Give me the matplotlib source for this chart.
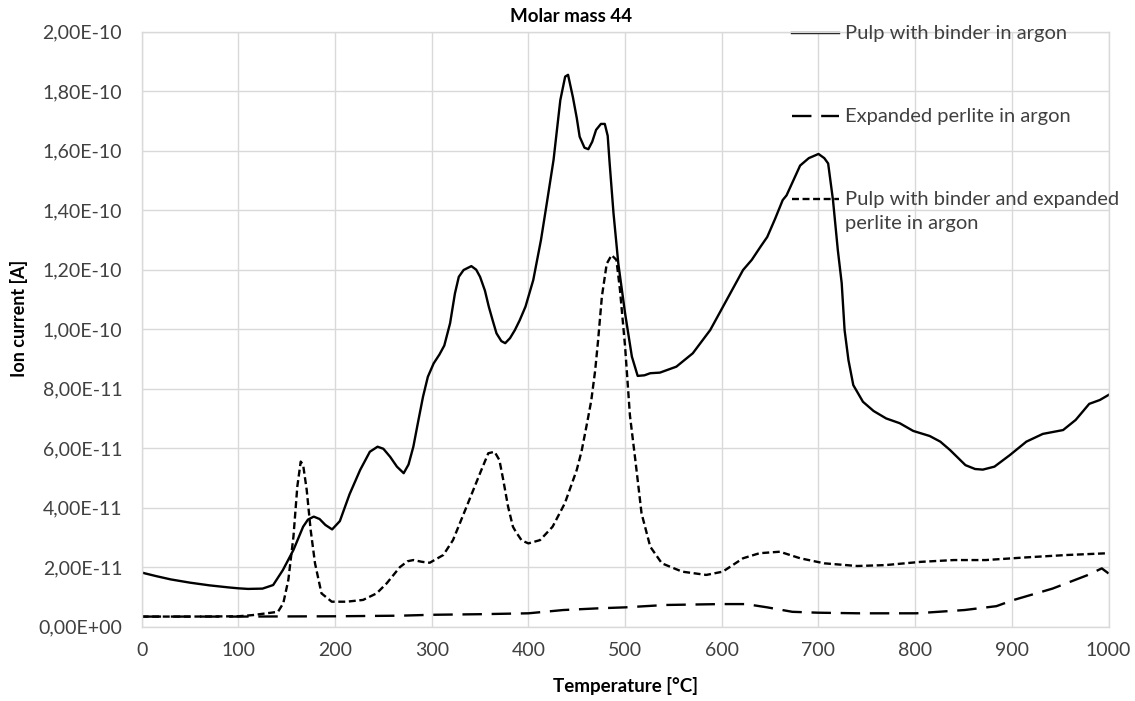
import numpy as np
import matplotlib
matplotlib.use("Agg")
import matplotlib.pyplot as plt
from matplotlib.ticker import FuncFormatter

plt.rcParams['font.family'] = ['Lato', 'DejaVu Sans']
plt.rcParams['lines.scale_dashes'] = False

# Pulp with binder in argon (T in degC, ion current in 1e-11 A)
t_pulp = [0, 15, 30, 50, 70, 90, 100, 110, 125, 136, 146, 157, 167, 172, 178, 184, 190, 197,
          205, 215, 226, 236, 244, 250, 257, 264, 271, 276, 281, 286, 291, 296, 302, 308, 313,
          319, 324, 328, 333, 341, 346, 350, 355, 359, 363, 367, 372, 376, 381, 386, 391, 397,
          405, 413, 419, 426, 433, 438, 441, 446, 450, 453, 458, 462, 466, 470, 475, 479, 482,
          484, 488, 493, 500, 507, 513, 520, 526, 536, 553, 570, 588, 605, 622, 631, 640, 647,
          655, 663, 667, 674, 681, 690, 700, 706, 710, 715, 720, 724, 727, 731, 736, 746, 757,
          770, 784, 798, 815, 826, 836, 852, 862, 870, 882, 898, 915, 932, 953, 966, 980, 991, 1000]
i_pulp = [1.82, 1.70, 1.59, 1.48, 1.39, 1.32, 1.29, 1.27, 1.28, 1.40, 1.90, 2.58, 3.36, 3.60, 3.70,
          3.62, 3.42, 3.27, 3.55, 4.45, 5.27, 5.88, 6.05, 5.98, 5.71, 5.38, 5.16, 5.45, 6.05, 6.90,
          7.73, 8.40, 8.85, 9.15, 9.45, 10.2, 11.2, 11.76, 11.99, 12.12, 12.0, 11.76, 11.3, 10.76,
          10.3, 9.86, 9.6, 9.53, 9.7, 9.97, 10.3, 10.76, 11.65, 13.0, 14.23, 15.69, 17.7, 18.49,
          18.55, 17.8, 17.1, 16.47, 16.1, 16.05, 16.3, 16.7, 16.9, 16.9, 16.5, 15.58, 13.9, 12.2,
          10.53, 9.08, 8.43, 8.45, 8.52, 8.54, 8.74, 9.19, 9.97, 10.98, 11.99, 12.33, 12.77, 13.1,
          13.7, 14.34, 14.5, 15.0, 15.5, 15.75, 15.89, 15.75, 15.57, 14.34, 12.66, 11.55, 9.97,
          8.96, 8.12, 7.56, 7.25, 7.0, 6.84, 6.58, 6.41, 6.22, 5.94, 5.43, 5.3, 5.28, 5.38, 5.77,
          6.22, 6.48, 6.61, 6.95, 7.49, 7.62, 7.79]

# Expanded perlite in argon
t_perl = [0, 100, 200, 267, 300, 350, 400, 436, 474, 500, 542, 599, 625, 647, 673, 700, 742,
          801, 851, 884, 901, 942, 978, 993, 1000]
i_perl = [0.34, 0.34, 0.35, 0.37, 0.40, 0.42, 0.45, 0.56, 0.62, 0.65, 0.73, 0.76, 0.76, 0.65,
          0.50, 0.47, 0.45, 0.45, 0.56, 0.69, 0.89, 1.28, 1.73, 1.96, 1.79]

# Pulp with binder and expanded perlite in argon
t_mix = [0, 50, 100, 115, 129, 141, 146.5, 151.7, 157, 161, 164.5, 167, 170.7, 174.8, 179.3,
         186, 196.6, 212, 229, 243, 253.5, 267, 275, 281, 290, 298, 312, 322, 336, 350, 358.5,
         365, 370, 374, 379, 384, 387, 393, 400, 412, 425, 437.7, 450, 455, 461, 465, 469, 472,
         476, 481, 486, 491, 494.7, 500, 505, 511, 517, 526, 538, 559, 584, 601, 622, 639, 660,
         681, 706, 740, 769, 806, 840, 873, 915, 957, 1000]
i_mix = [0.34, 0.34, 0.35, 0.39, 0.45, 0.50, 0.79, 1.57, 3.03, 4.71, 5.55, 5.44, 4.60, 3.25,
         2.13, 1.12, 0.84, 0.84, 0.90, 1.12, 1.46, 2.0, 2.2, 2.24, 2.18, 2.15, 2.41, 2.91, 4.03,
         5.16, 5.83, 5.88, 5.6, 4.93, 4.03, 3.36, 3.19, 2.9, 2.8, 2.91, 3.36, 4.15, 5.27, 5.9,
         6.9, 7.6, 8.6, 9.6, 11.1, 12.2, 12.49, 12.33, 11.32, 9.41, 7.1, 5.49, 3.81, 2.69, 2.13,
         1.85, 1.74, 1.85, 2.3, 2.47, 2.52, 2.3, 2.13, 2.04, 2.07, 2.18, 2.24, 2.24, 2.33, 2.41, 2.47]

labels = ['Pulp with binder in argon', 'Expanded perlite in argon',
          'Pulp with binder and expanded\nperlite in argon']

scale = 1e-11
styles = [dict(ls='-'), dict(dashes=(14, 7)), dict(dashes=(5, 2.6))]


def excel_sci(v, pos):
    if v == 0:
        return '0,00E+00'
    e = int(np.floor(np.log10(abs(v)) + 1e-9))
    m = v / 10 ** e
    return ('%.2f' % m).replace('.', ',') + 'E%+03d' % e


fig = plt.figure(figsize=(11.35, 7.01), dpi=100)
ax = fig.add_axes([0.1248, 0.106, 0.8519, 0.8488])

series = [(t_pulp, i_pulp), (t_perl, i_perl), (t_mix, i_mix)]
for (t, i), st in zip(series, styles):
    ax.plot(t, np.array(i) * scale, color='black', lw=1.7, **st)

ax.set_xlim(0, 1000)
ax.set_ylim(0, 2e-10)
ax.set_xticks(np.arange(0, 1001, 100))
ax.set_yticks(np.arange(0, 2.01e-10, 2e-11))
ax.yaxis.set_major_formatter(FuncFormatter(excel_sci))
ax.grid(True, color='#d9d9d9', lw=1)
ax.set_axisbelow(True)
for s in ax.spines.values():
    s.set_color('#d9d9d9')
    s.set_linewidth(1)
ax.tick_params(length=0, labelsize=14, colors='#404040')
ax.tick_params(axis='y', pad=14)
ax.tick_params(axis='x', pad=11)
ax.set_xlabel('Temperature [°C]', fontsize=13.5, fontweight='bold')
ax.xaxis.set_label_coords(0.5, -0.085)
ax.set_ylabel('Ion current [A]', fontsize=13, fontweight='bold')
ax.yaxis.set_label_coords(-0.118, 0.519)
ax.set_title('Molar mass 44', fontsize=13.5, fontweight='bold', x=0.444, pad=7)

# legend drawn by hand (Excel style, key aligned with first text line)
ys = [0.997, 0.858, 0.719]
for lab, yy, st in zip(labels, ys, styles):
    ax.plot([0.673, 0.721], [yy, yy], transform=ax.transAxes, color='black', lw=1.7,
            clip_on=False, **st)
    ax.text(0.727, yy + 0.014, lab, transform=ax.transAxes, fontsize=14.5, color='#404040',
            va='top', ha='left', linespacing=1.55)

fig.savefig('out.png', dpi=100)
